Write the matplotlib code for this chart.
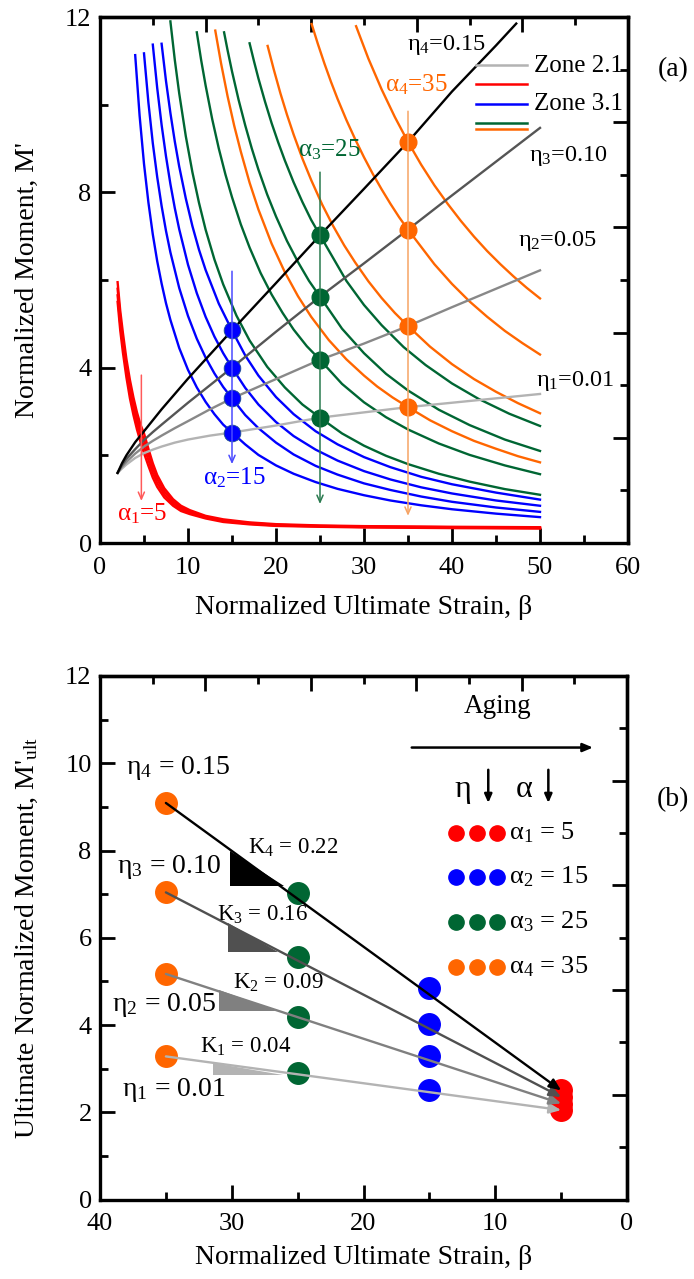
import matplotlib
matplotlib.use("Agg")
import matplotlib.pyplot as plt
from matplotlib.ticker import MultipleLocator, FixedLocator

plt.rcParams['font.family'] = ['Liberation Serif', 'DejaVu Serif']
plt.rcParams['mathtext.fontset'] = 'custom'
plt.rcParams['mathtext.rm'] = 'Liberation Serif'
plt.rcParams['mathtext.it'] = 'Liberation Serif:italic'
plt.rcParams['mathtext.default'] = 'rm'

# ---------------- panel (a): M' versus beta ----------------
alpha_vals = [5, 15, 25, 35]

# zone 2.1 curves (one per eta)
eta_beta = [2, 2.5, 3, 4, 5, 6, 7, 8.5, 10, 12.5, 15, 20, 25, 30, 35, 40, 45, 50]
eta1_m = [1.6, 1.7, 1.79, 1.94, 2.05, 2.13, 2.2, 2.29, 2.36, 2.45, 2.52, 2.68, 2.86, 2.98,
          3.1, 3.2, 3.3, 3.4]
eta2_m = [1.6, 1.74, 1.85, 2.04, 2.2, 2.33, 2.45, 2.62, 2.78, 3.05, 3.3, 3.74, 4.18, 4.55,
          4.95, 5.38, 5.8, 6.22]
eta3_m = [1.6, 1.78, 1.92, 2.14, 2.35, 2.53, 2.7, 2.95, 3.2, 3.6, 4.0, 4.82, 5.62, 6.38,
          7.15, 7.93, 8.7, 9.47]
eta4_beta = [2, 2.5, 3, 4, 5, 6, 7, 8.5, 10, 12.5, 15, 20, 25, 30, 35, 40, 45, 47.3]
eta4_m = [1.6, 1.82, 2.0, 2.3, 2.55, 2.8, 3.05, 3.4, 3.75, 4.3, 4.85, 5.93, 7.02, 8.08,
          9.15, 10.3, 11.35, 11.85]

# zone 3.1, alpha1 = 5
red_beta = [2.0, 2.3, 2.6, 3.0, 3.4, 3.8, 4.2, 4.6, 5.0, 5.5, 6.0, 6.5, 7.3, 8.3,
            9.2, 10.2, 12, 14, 17, 20, 25, 30, 40, 50]
red1_m = [5.5, 4.85, 4.35, 3.78, 3.3, 2.92, 2.59, 2.31, 2.05, 1.76, 1.49, 1.28, 1.04, 0.85,
          0.73, 0.66, 0.56, 0.48, 0.425, 0.39, 0.37, 0.355, 0.34, 0.33]
red2_m = [5.65, 5.0, 4.5, 3.92, 3.44, 3.05, 2.72, 2.44, 2.2, 1.89, 1.6, 1.37, 1.11, 0.9,
          0.77, 0.69, 0.58, 0.5, 0.44, 0.4, 0.38, 0.365, 0.35, 0.34]
red3_m = [5.8, 5.15, 4.65, 4.06, 3.58, 3.18, 2.85, 2.57, 2.35, 2.02, 1.71, 1.46, 1.18, 0.95,
          0.81, 0.72, 0.6, 0.52, 0.455, 0.415, 0.39, 0.375, 0.36, 0.35]
red4_m = [5.95, 5.3, 4.8, 4.2, 3.72, 3.32, 2.98, 2.7, 2.5, 2.15, 1.82, 1.55, 1.25, 1.0,
          0.85, 0.75, 0.62, 0.54, 0.47, 0.43, 0.40, 0.385, 0.37, 0.36]

# zone 3.1, alpha2 = 15
blue1_beta = [4.0, 4.5, 5, 5.5, 6, 6.5, 7, 7.5, 8, 9, 10, 11, 12, 13, 14, 15,
              16.5, 18, 20, 22, 24.5, 27, 30, 33, 36.5, 40, 45, 50]
blue1_m = [11.13, 9.75, 8.65, 7.77, 7.04, 6.43, 5.92, 5.47, 5.09, 4.45, 3.95, 3.55, 3.22,
           2.94, 2.70, 2.52, 2.25, 2.01, 1.77, 1.58, 1.39, 1.235, 1.09, 0.97, 0.86, 0.77,
           0.67, 0.59]
blue2_beta = [5.0, 5.5, 6, 6.5, 7, 7.5, 8, 9, 10, 11, 12, 13, 14, 15,
              16.5, 18, 20, 22, 24.5, 27, 30, 33, 36.5, 40, 45, 50]
blue2_m = [11.17, 10.05, 9.12, 8.35, 7.69, 7.12, 6.63, 5.82, 5.18, 4.66, 4.23, 3.87, 3.56,
           3.3, 2.92, 2.62, 2.29, 2.02, 1.76, 1.56, 1.36, 1.21, 1.06, 0.94, 0.81, 0.71]
blue3_beta = [6.0, 6.5, 7, 7.5, 8, 8.5, 9, 10, 11, 12, 13, 14, 15,
              16.5, 18, 20, 22, 24.5, 27, 30, 33, 36.5, 40, 45, 50]
blue3_m = [11.37, 10.38, 9.54, 8.82, 8.19, 7.64, 7.16, 6.35, 5.70, 5.16, 4.71, 4.33, 4.0,
           3.54, 3.16, 2.76, 2.44, 2.13, 1.88, 1.64, 1.45, 1.27, 1.13, 0.97, 0.85]
blue4_beta = [7.0, 7.5, 8, 8.5, 9, 9.75, 10.5, 11.25, 12, 13.5, 15,
              16.5, 18, 20, 22, 24.5, 27, 30, 33, 36.5, 40, 45, 50]
blue4_m = [11.39, 10.54, 9.81, 9.16, 8.59, 7.86, 7.23, 6.69, 6.23, 5.46, 4.85,
           4.28, 3.82, 3.33, 2.94, 2.55, 2.25, 1.96, 1.73, 1.51, 1.34, 1.15, 0.99]

# zone 3.1, alpha3 = 25
green1_beta = [8, 8.5, 9, 9.75, 10.5, 11.25, 12, 13, 14, 15.5, 17, 19, 21, 23, 25,
               27.5, 30, 32.5, 35, 38.5, 42, 46, 50]
green1_m = [11.9, 11.02, 10.26, 9.28, 8.46, 7.76, 7.15, 6.47, 5.90, 5.19, 4.62, 4.02, 3.55,
            3.16, 2.86, 2.50, 2.22, 1.99, 1.80, 1.58, 1.40, 1.23, 1.10]
green2_beta = [11, 11.5, 12, 12.75, 13.5, 14.25, 15, 16, 17, 18.25, 19.5, 20.75, 22, 23.5, 25,
               27.5, 30, 32.5, 35, 38.5, 42, 46, 50]
green2_m = [11.65, 11.01, 10.44, 9.67, 9.0, 8.41, 7.89, 7.27, 6.74, 6.16, 5.67, 5.25, 4.87,
            4.49, 4.18, 3.63, 3.21, 2.87, 2.59, 2.27, 2.01, 1.77, 1.57]
green3_beta = [14.1, 14.5, 15, 15.75, 16.5, 17.25, 18, 19, 20, 21.25, 22.5, 23.75, 25,
               27.5, 30, 32.5, 35, 38.5, 42, 46, 50]
green3_m = [11.65, 11.24, 10.76, 10.11, 9.53, 9.0, 8.52, 7.95, 7.45, 6.89, 6.41, 5.98, 5.62,
            4.89, 4.33, 3.86, 3.48, 3.04, 2.69, 2.36, 2.10]
green4_beta = [17, 17.5, 18, 18.75, 19.5, 20.25, 21, 22, 23, 24, 25,
               28, 30, 32, 34.5, 37, 40, 43, 46.5, 50]
green4_m = [11.4, 10.99, 10.6, 10.07, 9.58, 9.14, 8.73, 8.23, 7.78, 7.37, 7.02,
            5.98, 5.43, 4.97, 4.47, 4.06, 3.64, 3.29, 2.95, 2.67]

# zone 3.1, alpha4 = 35
orange1_beta = [13.1, 13.75, 14.5, 15.25, 16, 17, 18, 19.5, 21, 22.5, 24, 26, 28, 30, 31.5,
                33.25, 35, 37.5, 40, 42.5, 45, 47.5, 50]
orange1_m = [11.69, 10.95, 10.19, 9.52, 8.93, 8.22, 7.61, 6.83, 6.18, 5.63, 5.16, 4.63, 4.19,
             3.82, 3.57, 3.32, 3.1, 2.80, 2.55, 2.33, 2.15, 1.98, 1.84]
orange2_beta = [19.05, 19.75, 20.5, 21.25, 22, 23, 24, 25.25, 26.5, 27.75, 29, 30.5, 32, 33.5,
                35, 37.5, 40, 42.5, 45, 47.5, 50]
orange2_m = [11.34, 10.80, 10.26, 9.77, 9.32, 8.77, 8.28, 7.72, 7.23, 6.79, 6.40, 5.97, 5.59,
             5.25, 4.95, 4.48, 4.08, 3.74, 3.45, 3.19, 2.96]
orange3_beta = [24.05, 24.75, 25.5, 26.25, 27, 28, 29, 30, 31, 32, 33, 34, 35,
                38, 40, 42, 44, 46, 48, 50]
orange3_m = [11.84, 11.39, 10.94, 10.52, 10.13, 9.65, 9.21, 8.80, 8.42, 8.07, 7.74, 7.43, 7.15,
             6.36, 5.91, 5.51, 5.16, 4.84, 4.56, 4.30]
orange4_beta = [29.1, 30.5, 32, 33.5, 35, 36.5, 38, 39.5, 41, 42.5, 44, 45.5, 47, 48.5, 50]
orange4_m = [11.79, 11.05, 10.35, 9.72, 9.15, 8.63, 8.16, 7.74, 7.35, 6.99, 6.66, 6.36, 6.08,
             5.82, 5.58]

# intersection points at beta = alpha
blue_pts = [2.52, 3.3, 4.0, 4.85]
green_pts = [2.86, 4.18, 5.62, 7.02]
orange_pts = [3.1, 4.95, 7.15, 9.15]

# ---------------- panel (b): M'_ult versus beta ----------------
ult_red = [2.05, 2.2, 2.35, 2.5]
ult_blue = [2.5, 3.3, 4.02, 4.85]
ult_green = [2.9, 4.19, 5.57, 7.02]
ult_orange = [3.28, 5.17, 7.04, 9.09]
k_vals = ['0.04', '0.09', '0.16', '0.22']

# slope triangles (beta, M) for K1..K4
tri1_x, tri1_y = [31.4, 31.4, 26.1], [3.12, 2.86, 2.86]
tri2_x, tri2_y = [31.0, 31.0, 26.6], [4.80, 4.33, 4.33]
tri3_x, tri3_y = [30.3, 30.3, 26.5], [6.33, 5.68, 5.68]
tri4_x, tri4_y = [30.1, 30.1, 26.0], [7.98, 7.18, 7.18]

RED, BLUE, GREEN, ORANGE = '#ff0000', '#0000ff', '#006633', '#ff6600'
ETA_COLORS = ['#b3b3b3', '#888888', '#555555', '#000000']
K_COLORS = ['#b3b3b3', '#808080', '#505050', '#000000']


def frame(ax, xmaj, xmin, ymaj, ymin, top_maj, top_min, right_maj, right_min):
    for s in ax.spines.values():
        s.set_linewidth(2.4)
    ax.xaxis.set_major_locator(MultipleLocator(xmaj))
    ax.xaxis.set_minor_locator(MultipleLocator(xmin))
    ax.yaxis.set_major_locator(MultipleLocator(ymaj))
    ax.yaxis.set_minor_locator(MultipleLocator(ymin))
    ax.tick_params(which='both', direction='in', top=False, right=False,
                   width=2, labelsize=19)
    ax.tick_params(which='major', length=11)
    ax.tick_params(which='minor', length=6)
    ax.tick_params(axis='x', pad=10)
    ax.tick_params(axis='y', pad=6)
    top = ax.secondary_xaxis('top')
    top.xaxis.set_major_locator(FixedLocator(top_maj))
    top.xaxis.set_minor_locator(FixedLocator(top_min))
    top.tick_params(which='both', direction='in', labeltop=False, width=2)
    top.tick_params(which='major', length=11)
    top.tick_params(which='minor', length=6)
    top.spines['top'].set_linewidth(2.4)
    right = ax.secondary_yaxis('right')
    right.yaxis.set_major_locator(FixedLocator(right_maj))
    right.yaxis.set_minor_locator(FixedLocator(right_min))
    right.tick_params(which='both', direction='in', labelright=False, width=2)
    right.tick_params(which='major', length=11)
    right.tick_params(which='minor', length=6)
    right.spines['right'].set_linewidth(2.4)


fig = plt.figure(figsize=(6.94, 12.79), dpi=100)
ax1 = fig.add_axes([100 / 694, 1 - 543 / 1279, 528 / 694, 526 / 1279])
ax2 = fig.add_axes([100 / 694, 1 - 1199.5 / 1279, 527 / 694, 523.5 / 1279])

# ----- panel (a) -----
ax1.set_xlim(0, 60)
ax1.set_ylim(0, 12)
frame(ax1, 10, 5, 4, 2,
      [12, 24, 36, 48], [6, 18, 30, 42, 54],
      [2.4, 4.8, 7.2, 9.6], [1.2, 3.6, 6.0, 8.4, 10.8])

lw = 1.7
for m in (red1_m, red2_m, red3_m, red4_m):
    ax1.plot(red_beta, m, color=RED, lw=lw, zorder=2)
for b, m in ((blue1_beta, blue1_m), (blue2_beta, blue2_m),
             (blue3_beta, blue3_m), (blue4_beta, blue4_m)):
    ax1.plot(b, m, color=BLUE, lw=lw, zorder=2)
for b, m in ((green1_beta, green1_m), (green2_beta, green2_m),
             (green3_beta, green3_m), (green4_beta, green4_m)):
    ax1.plot(b, m, color=GREEN, lw=lw, zorder=2)
for b, m in ((orange1_beta, orange1_m), (orange2_beta, orange2_m),
             (orange3_beta, orange3_m), (orange4_beta, orange4_m)):
    ax1.plot(b, m, color=ORANGE, lw=lw, zorder=2)
for b, m, c in ((eta_beta, eta1_m, ETA_COLORS[0]), (eta_beta, eta2_m, ETA_COLORS[1]),
                (eta_beta, eta3_m, ETA_COLORS[2]), (eta4_beta, eta4_m, ETA_COLORS[3])):
    ax1.plot(b, m, color=c, lw=lw, zorder=3)

ax1.plot([alpha_vals[1]] * 4, blue_pts, 'o', ms=12, color=BLUE, mec='#1f4f8f', mew=0.6, zorder=4)
ax1.plot([alpha_vals[2]] * 4, green_pts, 'o', ms=12, color=GREEN, zorder=4)
ax1.plot([alpha_vals[3]] * 4, orange_pts, 'o', ms=12, color=ORANGE, zorder=4)

# vertical "reading" arrows
arrow_specs = [(4.7, 3.83, 0.96, '#ff5a5a'), (alpha_vals[1], 6.2, 1.8, '#4a4aff'),
               (alpha_vals[2], 8.46, 0.89, '#2a7a4f'), (alpha_vals[3], 9.85, 0.62, '#f6a465')]
for x, y0, y1, c in arrow_specs:
    ax1.annotate('', xy=(x, y1), xytext=(x, y0),
                 arrowprops=dict(arrowstyle='->,head_length=0.5,head_width=0.22',
                                 color=c, lw=1.1, shrinkA=0, shrinkB=0), zorder=5)

afs = 18
ax1.text(1.9, 0.66, r'α$_1$=5', color=RED, fontsize=afs, ha='left', va='center')
ax1.text(11.7, 1.5, r'α$_2$=15', color=BLUE, fontsize=afs, ha='left', va='center')
ax1.text(22.5, 8.97, r'α$_3$=25', color=GREEN, fontsize=afs, ha='left', va='center')
ax1.text(32.4, 10.45, r'α$_4$=35', color=ORANGE, fontsize=afs, ha='left', va='center')

efs = 17.5
ax1.text(34.9, 11.36, r'η$_4$=0.15', fontsize=efs, ha='left', va='center')
ax1.text(48.7, 8.82, r'η$_3$=0.10', fontsize=efs, ha='left', va='center')
ax1.text(47.5, 6.88, r'η$_2$=0.05', fontsize=efs, ha='left', va='center')
ax1.text(49.6, 3.70, r'η$_1$=0.01', fontsize=efs, ha='left', va='center')

# legend
leg_x = [0.713, 0.808]
for y, c in ((0.909, '#b3b3b3'), (0.872, RED), (0.835, BLUE), (0.799, GREEN), (0.787, ORANGE)):
    ax1.plot(leg_x, [y, y], color=c, lw=1.8, transform=ax1.transAxes, zorder=6)
ax1.text(0.822, 0.907, 'Zone 2.1', fontsize=18, ha='left', va='center', transform=ax1.transAxes)
ax1.text(0.822, 0.835, 'Zone 3.1', fontsize=18, ha='left', va='center', transform=ax1.transAxes)

fig.text(673 / 694, 1 - 70 / 1279, '(a)', fontsize=20, ha='center', va='center')
fig.text(27 / 694, 1 - 280 / 1279, "Normalized Moment, M'", fontsize=20,
         rotation=90, ha='center', va='center')
fig.text(364 / 694, 1 - 607 / 1279, 'Normalized Ultimate Strain, β', fontsize=20,
         ha='center', va='center')

# ----- panel (b) -----
ax2.set_xlim(40, 0)
ax2.set_ylim(0, 12)
frame(ax2, 10, 5, 2, 1,
      [32, 24, 16, 8], [36, 28, 20, 12, 4],
      [2.4, 4.8, 7.2, 9.6], [1.2, 3.6, 6.0, 8.4, 10.8])

ms_b = 15.5
ax2.plot([alpha_vals[0]] * 4, ult_red, 'o', ms=ms_b, color=RED, zorder=3)
ax2.plot([alpha_vals[1]] * 4, ult_blue, 'o', ms=ms_b, color=BLUE, zorder=3)
ax2.plot([alpha_vals[2]] * 4, ult_green, 'o', ms=ms_b, color=GREEN, zorder=3)
ax2.plot([alpha_vals[3]] * 4, ult_orange, 'o', ms=ms_b, color=ORANGE, zorder=3)

for tx, ty, c in ((tri1_x, tri1_y, K_COLORS[0]), (tri2_x, tri2_y, K_COLORS[1]),
                  (tri3_x, tri3_y, K_COLORS[2]), (tri4_x, tri4_y, K_COLORS[3])):
    ax2.fill(tx, ty, color=c, lw=0, zorder=2)

for o, r, c in zip(ult_orange, ult_red, K_COLORS):
    ax2.annotate('', xy=(alpha_vals[0], r), xytext=(alpha_vals[3], o),
                 arrowprops=dict(arrowstyle='-|>,head_length=0.7,head_width=0.3',
                                 color=c, lw=1.7, shrinkA=0, shrinkB=0), zorder=5)

bfs = 20
ax2.text(38.0, 9.9, r'η$_4$ = 0.15', fontsize=bfs, ha='left', va='center')
ax2.text(38.7, 7.63, r'η$_3$ = 0.10', fontsize=bfs, ha='left', va='center')
ax2.text(39.1, 4.46, r'η$_2$ = 0.05', fontsize=bfs, ha='left', va='center')
ax2.text(38.35, 2.51, r'η$_1$ = 0.01', fontsize=bfs, ha='left', va='center')

kfs = 16.5
ax2.text(28.8, 8.06, r'K$_4$ = ' + k_vals[3], fontsize=kfs, ha='left', va='center')
ax2.text(31.1, 6.52, r'K$_3$ = ' + k_vals[2], fontsize=kfs, ha='left', va='center')
ax2.text(29.9, 4.96, r'K$_2$ = ' + k_vals[1], fontsize=kfs, ha='left', va='center')
ax2.text(32.4, 3.5, r'K$_1$ = ' + k_vals[0], fontsize=kfs, ha='left', va='center')

# aging arrow
ax2.text(9.8, 11.3, 'Aging', fontsize=19.5, ha='center', va='center')
ax2.annotate('', xy=(2.58, 10.36), xytext=(16.34, 10.36),
             arrowprops=dict(arrowstyle='-|>,head_length=0.6,head_width=0.25',
                             color='black', lw=1.8, shrinkA=0, shrinkB=0))

ax2.text(12.45, 9.39, 'η', fontsize=23, ha='center', va='center')
ax2.text(7.82, 9.39, 'α', fontsize=23, ha='center', va='center')
for x in (10.53, 5.97):
    ax2.annotate('', xy=(x, 9.09), xytext=(x, 9.85),
                 arrowprops=dict(arrowstyle='-|>,head_length=0.5,head_width=0.22',
                                 color='black', lw=1.8, shrinkA=0, shrinkB=0))

# dot legend
leg_dot_x = [12.98, 11.41, 9.89]
leg_rows = [8.41, 7.40, 6.37, 5.34]
for y, c, a, k in zip(leg_rows, (RED, BLUE, GREEN, ORANGE), alpha_vals, range(1, 5)):
    ax2.plot(leg_dot_x, [y] * 3, 'o', ms=11, color=c, zorder=4)
    ax2.text(8.93, y, r'α$_%d$ = %d' % (k, a), fontsize=19, ha='left', va='center')

fig.text(673 / 694, 1 - 800 / 1279, '(b)', fontsize=20, ha='center', va='center')
fig.text(27 / 694, 1 - 938 / 1279, "Ultimate Normalized Moment, M'$_{\\mathrm{ult}}$",
         fontsize=20, rotation=90, ha='center', va='center')
fig.text(364 / 694, 1 - 1258 / 1279, 'Normalized Ultimate Strain, β', fontsize=20,
         ha='center', va='center')

fig.savefig('out.png', dpi=100)
